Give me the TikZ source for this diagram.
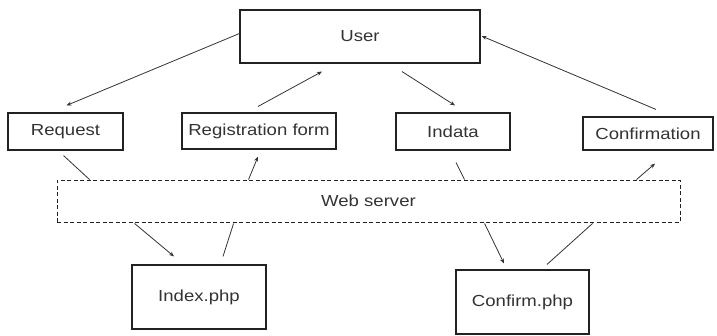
\documentclass[tikz,border=0pt]{standalone}
\usepackage{fontspec}
\setmainfont{Liberation Sans}[FakeStretch=1.16]
\usetikzlibrary{calc,arrows.meta}
\definecolor{ink}{HTML}{333333}
\definecolor{edge}{HTML}{222222}
\tikzset{
  box/.style={draw=edge, line width=1.1pt, fill=white, inner sep=0pt,
              text=ink, font=\fontsize{16}{18}\selectfont},
  wsbox/.style={box, dashed, dash pattern=on 4pt off 2.5pt, line width=0.9pt},
  link/.style={draw=ink, line width=0.8pt},
  flow/.style={link, -{Stealth[length=5pt,width=4pt]}},
}
\begin{document}
\begin{tikzpicture}[x=1pt,y=-1pt]
\useasboundingbox (0,0) rectangle (717,335);
% boxes (pixel frame, y grows downward)
\node[box, minimum width=240pt, minimum height=53pt] (user) at (360,36.5) {User};
\node[box, minimum width=115pt, minimum height=37pt] (req)  at (65.5,131.5) {Request};
\node[box, minimum width=154pt, minimum height=36pt] (reg)  at (259,131) {Registration form};
\node[box, minimum width=114pt, minimum height=37pt] (ind)  at (453,131.5) {Indata};
\node[box, minimum width=130pt, minimum height=33pt] (conf) at (648,133.5) {Confirmation};
\node[wsbox, minimum width=623pt, minimum height=42pt] (web) at (368.5,201) {Web server};
\node[box, minimum width=134pt, minimum height=64pt] (idx)  at (199,297) {Index.php};
\node[box, minimum width=133pt, minimum height=64pt] (cphp) at (522.5,302) {Confirm.php};
% user level
\draw[flow] ($(user.west)+(0,-3)$) -- ($(req.north)+(1,-7)$);
\draw[flow] ($(reg.north)+(-1,-6)$) -- ($(user.south)+(-38,8)$);
\draw[flow] ($(user.south)+(42,8)$) -- ($(ind.north)+(2,-7)$);
\draw[flow] ($(conf.north)+(8,-7)$) -- ($(user.east)+(1,-0.5)$);
% messages to and from the web server
\draw[link] ($(req.south)+(-2,5)$) -- ($(web.north west)+(33,0)$);
\draw[flow] ($(web.north west)+(192,0)$) -- ($(reg.south)+(-1,7)$);
\draw[link] ($(ind.south)+(3,12)$) -- ($(web.north west)+(408,0)$);
\draw[flow] ($(web.north west)+(580,0)$) -- ($(conf.south)+(7,13)$);
% scripts
\draw[flow] ($(web.south west)+(78,1)$) -- ($(idx.north)+(-25,-8)$);
\draw[link] ($(idx.north)+(24,-8)$) -- ($(web.south west)+(177,1)$);
\draw[flow] ($(web.south west)+(428,1)$) -- ($(cphp.north)+(-18.5,-6)$);
\draw[link] ($(cphp.north)+(24.5,-5)$) -- ($(web.south west)+(536,1)$);
\end{tikzpicture}
\end{document}
